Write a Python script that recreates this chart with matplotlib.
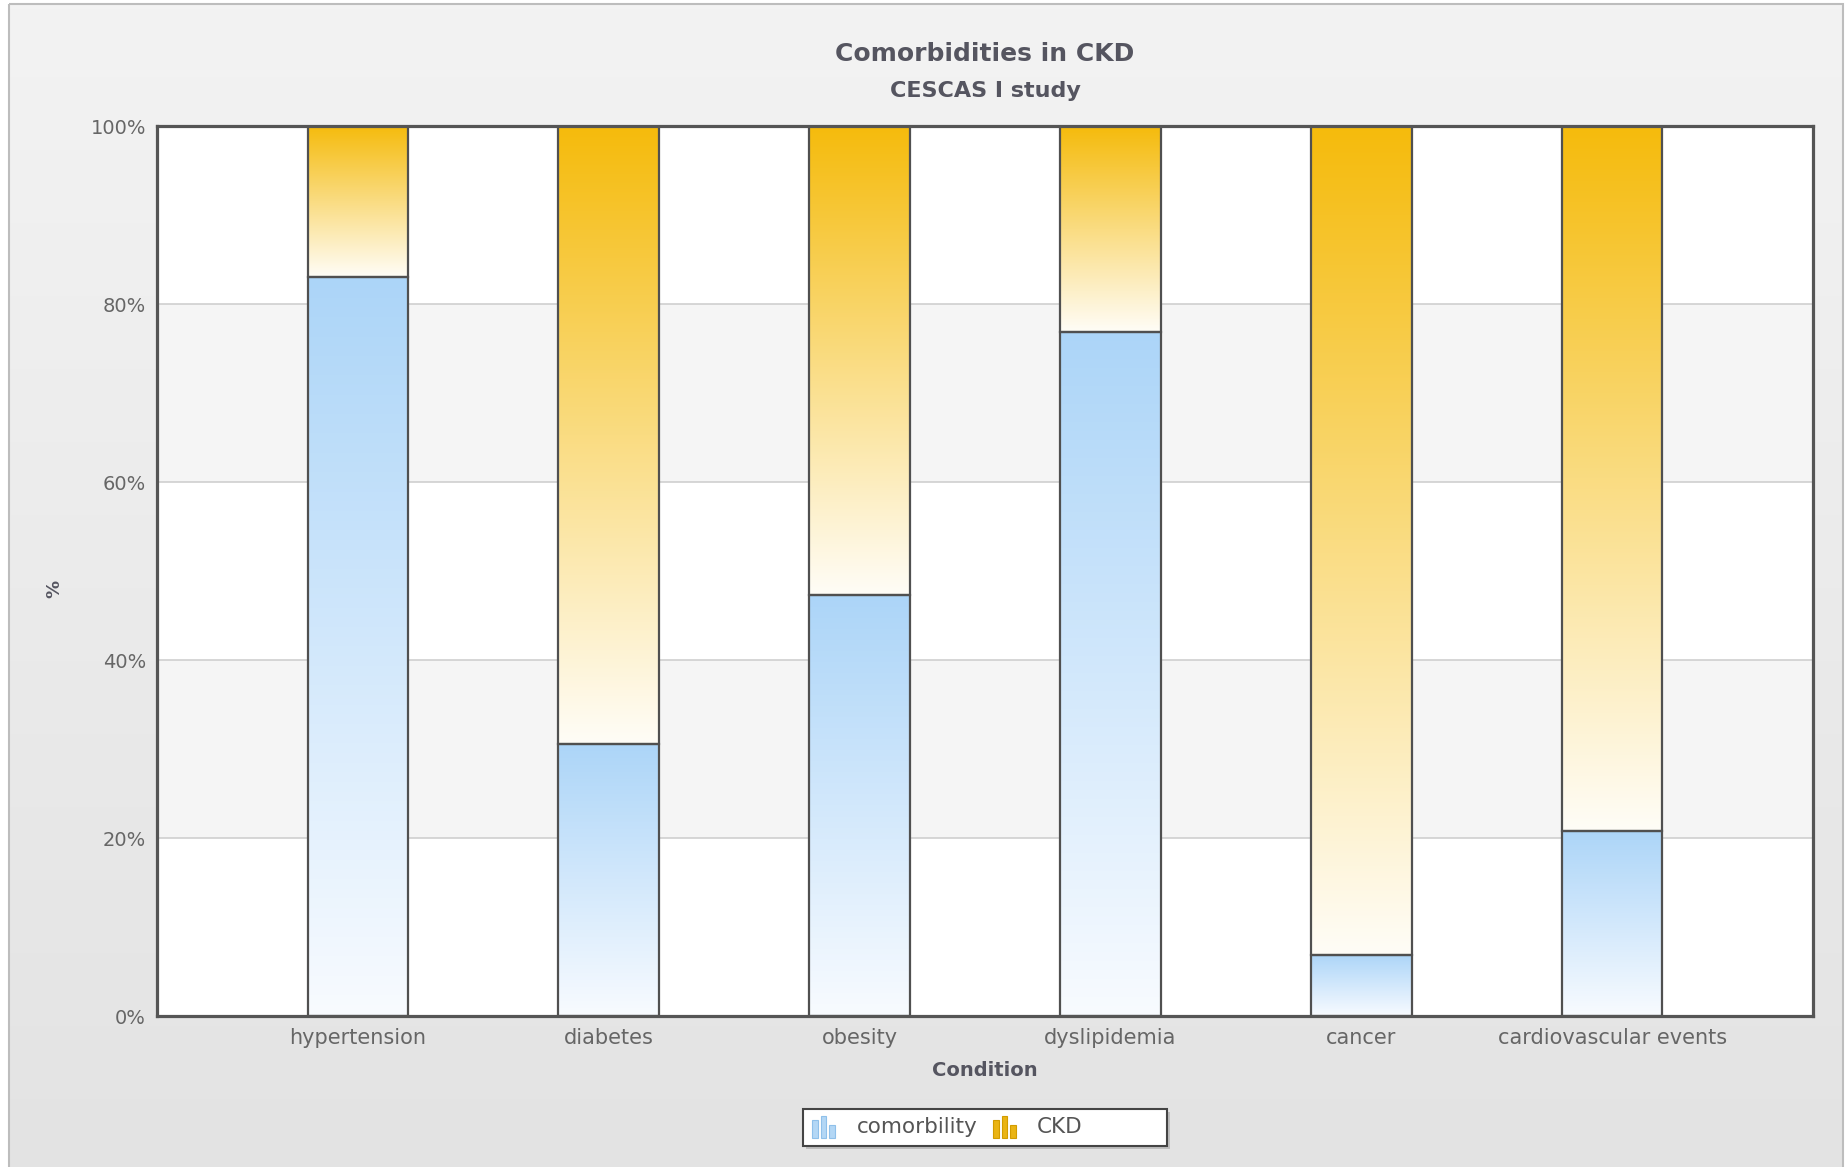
import numpy as np
import matplotlib
matplotlib.use("Agg")
import matplotlib.pyplot as plt
from matplotlib.patches import Rectangle
from matplotlib.colors import to_rgba

# Share of patients (%) per condition
conditions = ["hypertension", "diabetes", "obesity", "dyslipidemia",
              "cancer", "cardiovascular events"]
comorbidity_pct = [83.0, 30.6, 47.3, 76.9, 6.9, 20.8]
ckd_pct = [100 - v for v in comorbidity_pct]
y_ticks = [0, 20, 40, 60, 80, 100]
series_names = ["comorbility", "CKD"]

W, H, DPI = 1847, 1167, 100
fig = plt.figure(figsize=(W / DPI, H / DPI), dpi=DPI)
fig.patch.set_facecolor("white")

TEXT = "#555560"

# Panel background: soft vertical gray gradient inside a thin border
bg = fig.add_axes([0, 0, 1, 1], zorder=0)
bg.set_xlim(0, W)
bg.set_ylim(H, 0)
bg.axis("off")
top_c = np.array(to_rgba("#f3f3f3"))
bot_c = np.array(to_rgba("#e3e3e3"))
t = np.linspace(0, 1, 256)[:, None, None]
grad = top_c * (1 - t) + bot_c * t
bg.imshow(grad, extent=[9, 1843, H + 5, 4], aspect="auto", zorder=0)
bg.add_patch(Rectangle((9, 4), 1834, H + 10, fill=False,
                       edgecolor="#bdbdbd", linewidth=1.5, zorder=1))

ax = fig.add_axes([157 / W, 1 - 1016 / H, (1813 - 157) / W, (1016 - 126) / H],
                  zorder=1)
x = np.arange(len(conditions))

# Alternating horizontal bands and grid lines
for i in range(len(y_ticks) - 1):
    band = "#ffffff" if i % 2 == 0 else "#f5f5f5"
    ax.axhspan(y_ticks[i], y_ticks[i + 1], color=band, zorder=0, linewidth=0)
for yv in y_ticks[1:-1]:
    ax.axhline(yv, color="#cfcfcf", linewidth=1.2, zorder=0.5)

bar_w = 0.4


def shade(patches, c_top, c_bot):
    ct = np.array(to_rgba(c_top))
    cb = np.array(to_rgba(c_bot))
    g = ct * (1 - t) + cb * t
    for p in patches:
        x0, y0 = p.get_x(), p.get_y()
        x1, y1 = x0 + p.get_width(), y0 + p.get_height()
        im = ax.imshow(g, extent=[x0, x1, y0, y1], aspect="auto",
                       zorder=2, interpolation="bilinear")
        im.set_clip_path(p)


bars_com = ax.bar(x, comorbidity_pct, width=bar_w, facecolor="none",
                  edgecolor="#505050", linewidth=1.6, zorder=3)
bars_ckd = ax.bar(x, ckd_pct, width=bar_w, bottom=comorbidity_pct,
                  facecolor="none", edgecolor="#505050", linewidth=1.6, zorder=3)
shade(bars_com, "#acd5f8", "#f8fbff")
shade(bars_ckd, "#f5bb0c", "#fffdf7")
ax.set_xlim(-0.8, len(conditions) - 0.2)
ax.set_ylim(0, 100)

for s in ax.spines.values():
    s.set_color("#555555")
    s.set_linewidth(2.3)
    s.set_zorder(5)

ax.set_yticks(y_ticks)
ax.set_yticklabels([f"{v}%" for v in y_ticks])
ax.set_xticks(x)
ax.set_xticklabels(conditions)
ax.tick_params(axis="both", length=0, colors="#666666")
ax.tick_params(axis="y", pad=8, labelsize=14)
ax.tick_params(axis="x", pad=9, labelsize=15)

cx = 0.5 * (157 + 1813) / W
fig.text(cx, 1 - 54 / H, "Comorbidities in CKD",
         ha="center", va="center", fontsize=18, fontweight="bold", color=TEXT)
fig.text(cx, 1 - 91 / H, "CESCAS I study",
         ha="center", va="center", fontsize=16, fontweight="bold", color=TEXT)
fig.text(cx, 1 - 1071 / H, "Condition",
         ha="center", va="center", fontsize=14, fontweight="bold", color=TEXT)
fig.text(54 / W, 1 - 589 / H, "%", rotation=90,
         ha="center", va="center", fontsize=13, fontweight="bold", color=TEXT)

# Legend box with drop shadow, bar-chart icons and series names
lx0, ly0, lx1, ly1 = 803, 1109, 1167, 1146
bg.add_patch(Rectangle((lx0 + 3, ly0 + 3), lx1 - lx0, ly1 - ly0,
                       facecolor="#9a9a9a", edgecolor="none", alpha=0.5, zorder=2))
bg.add_patch(Rectangle((lx0, ly0), lx1 - lx0, ly1 - ly0,
                       facecolor="white", edgecolor="#444444", linewidth=1.5,
                       zorder=3))

icon_styles = [("#b3d7f5", "#8fc0ea"), ("#eab414", "#d29c00")]
icon_x = [812, 993]
text_x = [857, 1037]
base = 1138
for (face, edge), ix, tx, name in zip(icon_styles, icon_x, text_x, series_names):
    for k, top in enumerate([1120, 1116, 1125]):
        bg.add_patch(Rectangle((ix + k * 8.5, top), 5.5, base - top,
                               facecolor=face, edgecolor=edge, linewidth=0.8,
                               zorder=4))
    bg.text(tx, 1127, name, ha="left", va="center", fontsize=15.5,
            color="#555555", zorder=4)

fig.savefig("out.png", dpi=DPI, facecolor=fig.get_facecolor())
